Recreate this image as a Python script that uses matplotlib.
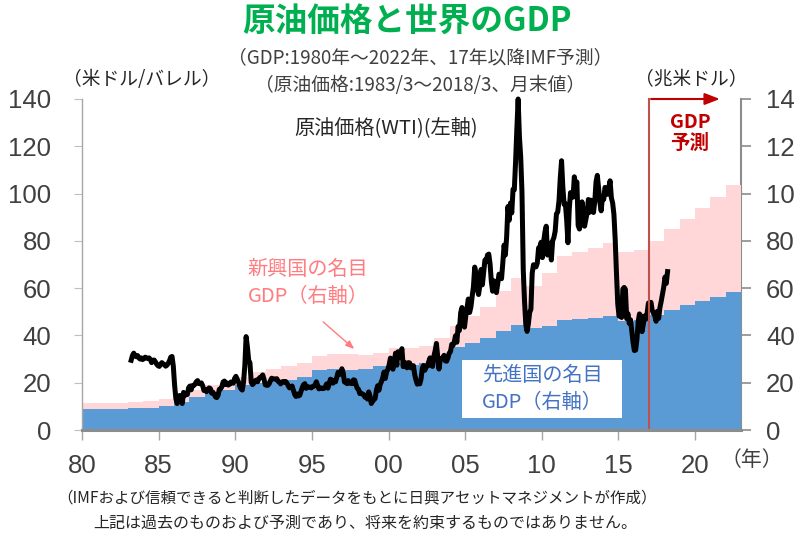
import numpy as np
import matplotlib
matplotlib.use("Agg")
import matplotlib.pyplot as plt
from matplotlib.patches import Rectangle

plt.rcParams['font.family'] = ['Noto Sans CJK JP', 'DejaVu Sans']

# GDP, trillion USD (right axis), 1980-2022 (17年以降はIMF予測)
years = list(range(1980, 2023))
gdp_world = [11.4, 11.6, 11.6, 11.9, 12.3, 13.0, 14.8, 16.8, 19.2, 19.8,
             22.4, 24.5, 25.6, 27.0, 28.3, 31.5, 32.2, 32.2, 31.8, 32.7,
             34.5, 34.6, 35.4, 38.9, 44.1, 48.1, 52.0, 58.6, 64.2, 60.7,
             66.6, 73.4, 75.1, 77.1, 79.3, 75.1, 76.0, 79.9, 84.9, 89.4,
             94.0, 98.7, 103.6]
gdp_advanced = [8.8, 8.8, 8.8, 9.1, 9.5, 10.2, 12.0, 14.1, 16.0, 16.8,
                18.9, 19.8, 20.9, 21.3, 22.6, 25.5, 25.9, 25.5, 25.7, 26.9,
                28.2, 27.4, 28.3, 31.1, 34.9, 36.8, 38.9, 41.9, 44.3, 43.2,
                43.8, 46.7, 47.0, 47.4, 48.1, 46.0, 46.7, 48.8, 50.9, 53.0,
                54.7, 56.4, 58.3]

# WTI crude, USD/barrel, month end, 1983/3 - 2018/3
wti_start = (1983, 3)
wti = [
    29.5, 31.5, 32.5, 31.5, 31.0, 31.5, 30.5, 30.0, 30.5, 29.8,              # 1983
    30.2, 30.8, 30.5, 30.2, 30.5, 29.8, 28.5, 29.5, 29.6, 28.8, 27.8, 27.2,  # 1984
    26.9, 27.8, 28.5, 28.0, 27.6, 27.0, 27.4, 28.2, 29.3, 30.8, 31.1, 27.0,  # 1985
    19.0, 13.3, 11.2, 14.0, 14.6, 12.8, 11.2, 15.9, 14.6, 15.1, 15.0, 17.9,  # 1986
    18.6, 17.0, 18.8, 18.8, 19.4, 20.4, 20.9, 19.6, 19.6, 19.9, 18.7, 16.7,  # 1987
    17.2, 16.2, 16.9, 17.8, 17.5, 15.6, 16.0, 15.1, 14.0, 13.7, 14.6, 17.2,  # 1988
    17.4, 18.3, 20.3, 20.7, 19.2, 19.9, 19.0, 19.3, 20.3, 19.9, 19.8, 21.8,  # 1989
    22.7, 21.5, 20.3, 18.6, 17.4, 16.9, 20.3, 27.3, 39.5, 35.2, 29.5, 28.4,  # 1990
    20.2, 19.2, 19.8, 20.8, 21.1, 20.4, 21.7, 22.3, 22.3, 23.3, 21.5, 19.1,  # 1991
    18.9, 18.9, 19.5, 20.8, 21.9, 21.7, 21.6, 21.5, 21.7, 20.6, 20.3, 19.5,  # 1992
    20.3, 20.5, 20.2, 20.5, 19.8, 18.7, 17.8, 18.1, 18.6, 16.9, 15.1, 14.2,  # 1993
    15.2, 14.4, 14.7, 16.4, 18.0, 19.2, 19.6, 17.6, 18.4, 18.2, 18.1, 17.8,  # 1994
    18.4, 18.5, 19.2, 20.4, 18.9, 17.4, 17.6, 17.8, 17.5, 17.6, 18.2, 19.5,  # 1995
    17.7, 19.5, 21.5, 21.2, 19.8, 20.9, 20.4, 22.3, 24.4, 23.4, 23.8, 25.9,  # 1996
    24.2, 20.3, 20.4, 19.6, 20.9, 19.8, 20.1, 19.6, 21.2, 21.1, 19.2, 17.6,  # 1997
    17.2, 15.4, 15.6, 15.2, 15.0, 13.9, 14.1, 13.1, 16.1, 14.4, 11.2, 12.1,  # 1998
    12.8, 13.3, 16.8, 18.7, 16.8, 19.3, 20.5, 22.1, 24.5, 21.8, 24.6, 25.6,  # 1999
    27.6, 30.4, 26.9, 25.7, 29.0, 32.5, 27.4, 33.1, 30.8, 32.7, 34.4, 26.8,  # 2000
    28.7, 27.4, 26.3, 28.5, 28.4, 26.3, 26.4, 27.2, 23.4, 21.2, 19.4, 19.8,  # 2001
    19.5, 21.7, 26.3, 27.3, 25.3, 26.9, 27.0, 28.9, 30.5, 27.2, 26.9, 31.2,  # 2002
    33.5, 36.6, 31.0, 25.8, 29.6, 30.2, 30.5, 31.6, 29.2, 29.1, 30.4, 32.5,  # 2003
    33.1, 36.2, 35.8, 37.4, 39.9, 37.1, 43.8, 42.1, 49.6, 51.8, 49.1, 43.5,  # 2004
    48.2, 51.8, 55.4, 49.7, 52.0, 56.5, 60.6, 68.9, 66.2, 59.8, 57.3, 61.0,  # 2005
    67.9, 61.4, 66.6, 71.9, 71.3, 74.0, 74.4, 70.3, 62.9, 58.7, 63.1, 61.1,  # 2006
    58.1, 61.8, 65.9, 65.7, 64.0, 70.7, 78.2, 74.0, 81.7, 94.5, 88.7, 96.0,  # 2007
    91.8, 101.8, 101.6, 113.5, 127.4, 140.0, 124.1, 115.5, 100.6, 67.8, 54.4, 44.6,  # 2008
    41.7, 44.8, 49.7, 51.1, 66.3, 69.9, 69.5, 69.0, 70.6, 77.0, 77.3, 79.4,  # 2009
    72.9, 79.7, 83.8, 86.2, 74.0, 75.6, 79.0, 71.9, 80.0, 81.4, 84.1, 91.4,  # 2010
    92.2, 97.0, 106.7, 113.9, 102.7, 95.4, 95.7, 88.8, 79.2, 93.2, 100.4, 98.8,  # 2011
    98.5, 107.1, 103.0, 104.9, 86.5, 85.0, 88.1, 96.5, 92.2, 86.2, 88.9, 91.8,  # 2012
    97.5, 92.1, 97.2, 93.5, 92.0, 96.6, 105.0, 107.7, 102.3, 96.4, 92.7, 98.4,  # 2013
    97.5, 102.6, 101.6, 99.7, 102.7, 105.4, 98.2, 96.0, 91.2, 80.5, 66.2, 53.3,  # 2014
    48.2, 49.8, 47.6, 59.6, 60.3, 59.5, 47.1, 49.2, 45.1, 46.6, 41.7, 37.0,  # 2015
    33.6, 33.8, 38.3, 45.9, 49.1, 48.3, 41.6, 44.7, 48.2, 46.9, 49.4, 53.7,  # 2016
    52.8, 54.0, 50.6, 49.3, 48.3, 46.0, 50.2, 47.2, 51.7, 54.4, 57.4, 60.4,  # 2017
    64.7, 62.0, 67.0,                                                        # 2018
]

yticks = [0, 20, 40, 60, 80, 100, 120, 140]
xtick_years = [1980, 1985, 1990, 1995, 2000, 2005, 2010, 2015, 2020]
xtick_labels = ["80", "85", "90", "95", "00", "05", "10", "15", "20"]
forecast_start = 2017

W, H = 794, 539
fig = plt.figure(figsize=(W / 100, H / 100), dpi=100)


def fx(px):
    return px / W


def fy(py):
    return 1 - py / H


ax = fig.add_axes([fx(82), fy(430), fx(741) - fx(82), fy(99) - fy(430)])
ax2 = ax.twinx()

edges = np.arange(years[0], years[-1] + 2)
ax.stairs(gdp_world, edges, baseline=0, fill=True, color="#FFD7D9", lw=0, zorder=1)
ax.stairs(gdp_advanced, edges, baseline=0, fill=True, color="#5B9BD5", lw=0, zorder=2)

m0 = wti_start[0] + (wti_start[1] - 0.5) / 12
wti_x = m0 + np.arange(len(wti)) / 12
ax.plot(wti_x, wti, color="black", lw=3.6, solid_joinstyle="round", zorder=5, clip_on=False)

# forecast marker
ax.plot([forecast_start, forecast_start], [0, 140], color="#C0504D", lw=1.5, zorder=6, clip_on=False)
ax.annotate("", xy=(2021.8, 140), xytext=(forecast_start - 0.05, 140),
            arrowprops=dict(arrowstyle="-|>,head_length=0.9,head_width=0.35", color="#C00000", lw=1.5),
            annotation_clip=False, zorder=7)

ax.set_xlim(1980, 2023)
for a in (ax, ax2):
    a.set_ylim(0, 140)
    a.set_yticks(yticks)

ax.set_xticks(xtick_years)
ax.set_xticklabels(xtick_labels)

for lab in ax.get_xticklabels() + ax.get_yticklabels() + ax2.get_yticklabels():
    lab.set_fontfamily("Liberation Sans")
    lab.set_fontsize(18.5)
    lab.set_color("#404040")

ax.spines["top"].set_visible(False)
ax2.spines["top"].set_visible(False)
ax2.spines["left"].set_visible(False)
ax2.spines["bottom"].set_visible(False)
ax.spines["right"].set_visible(False)
ax.spines["left"].set_color("#A6A6A6")
ax.spines["left"].set_linestyle((0, (1, 1)))
ax.spines["left"].set_linewidth(1.0)
ax.spines["bottom"].set_color("#8C8C8C")
ax.spines["bottom"].set_linewidth(2.2)
ax.spines["bottom"].set_zorder(8)
ax2.spines["right"].set_color("#8C8C8C")
ax2.spines["right"].set_linewidth(1.5)

ax.tick_params(axis="y", length=6, width=0.8, color="#BFBFBF", pad=16)
ax.tick_params(axis="x", length=7, width=1.0, color="#A6A6A6", pad=10)
ax2.tick_params(axis="y", length=7, width=1.2, color="#8C8C8C", pad=11)

ax.set_facecolor("none")
ax.set_zorder(2)

# titles and notes
fig.text(fx(407), fy(22), "原油価格と世界のGDP", ha="center", va="center",
         fontsize=23.5, fontweight="bold", color="#00B050")
fig.text(fx(420), fy(58), "（GDP:1980年～2022年、17年以降IMF予測）", ha="center", va="center",
         fontsize=13.5, color="#404040")
fig.text(fx(420), fy(86), "（原油価格:1983/3～2018/3、月末値）", ha="center", va="center",
         fontsize=13.5, color="#404040")
fig.text(fx(142), fy(80), "（米ドル/バレル）", ha="center", va="center", fontsize=13.5, color="#262626")
fig.text(fx(691), fy(80), "（兆米ドル）", ha="center", va="center", fontsize=13.5, color="#262626")
fig.text(fx(752), fy(460), "（年）", ha="center", va="center", fontsize=15, color="#404040")

fig.text(fx(386), fy(128), "原油価格(WTI)(左軸)", ha="center", va="center",
         fontsize=14.5, color="#262626", zorder=10)
fig.text(fx(308), fy(283), "新興国の名目\nGDP（右軸）", ha="center", va="center",
         fontsize=14.5, color="#FF7C80", linespacing=1.35, zorder=10)
ax.annotate("", xy=(1997.9, 33.5), xytext=(1995.6, 46.5),
            arrowprops=dict(arrowstyle="-|>,head_length=0.5,head_width=0.2", color="#FF7C80", lw=1.0),
            zorder=10)
fig.add_artist(Rectangle((fx(462), fy(418)), fx(622) - fx(462), fy(360) - fy(418),
                         transform=fig.transFigure, fc="white", ec="none", zorder=5))
fig.text(fx(542), fy(389), "先進国の名目\nGDP（右軸）", ha="center", va="center",
         fontsize=14.5, color="#4472C4", linespacing=1.35, zorder=10)
fig.text(fx(690), fy(133), "GDP\n予測", ha="center", va="center", fontsize=14,
         fontweight="bold", color="#C00000", linespacing=1.15, zorder=10)

fig.text(fx(357), fy(498), "（IMFおよび信頼できると判断したデータをもとに日興アセットマネジメントが作成）",
         ha="center", va="center", fontsize=11.2, color="#262626")
fig.text(fx(365), fy(523), "上記は過去のものおよび予測であり、将来を約束するものではありません。",
         ha="center", va="center", fontsize=11.5, color="#262626")

fig.savefig("out.png", dpi=100)
